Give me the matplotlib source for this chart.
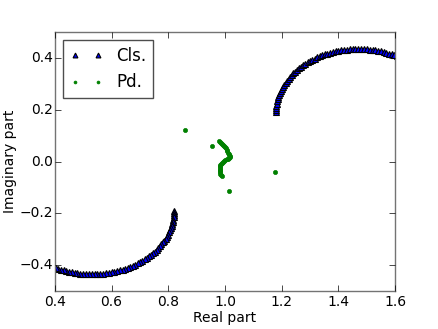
import matplotlib
matplotlib.use("Agg")
import matplotlib.pyplot as plt

# Cls. branch (upper right)
cls_upper_re = [1.1800, 1.1802, 1.1807, 1.1816, 1.1828, 1.1844, 1.1864, 1.1886, 1.1912, 1.1942,
                1.1975, 1.2011, 1.2051, 1.2093, 1.2140, 1.2189, 1.2241, 1.2296, 1.2354, 1.2415,
                1.2479, 1.2545, 1.2614, 1.2685, 1.2760, 1.2836, 1.2914, 1.2995, 1.3078, 1.3163,
                1.3250, 1.3338, 1.3429, 1.3521, 1.3614, 1.3708, 1.3804, 1.3901, 1.3998, 1.4097,
                1.4197, 1.4296, 1.4397, 1.4498, 1.4599, 1.4700, 1.4801, 1.4902, 1.5003, 1.5104,
                1.5203, 1.5303, 1.5402, 1.5499, 1.5596, 1.5692, 1.5786, 1.5879, 1.5971, 1.6062]
cls_upper_im = [0.1900, 0.1986, 0.2071, 0.2156, 0.2241, 0.2325, 0.2409, 0.2493, 0.2575, 0.2657,
                0.2738, 0.2818, 0.2896, 0.2974, 0.3050, 0.3125, 0.3198, 0.3270, 0.3340, 0.3408,
                0.3475, 0.3539, 0.3602, 0.3662, 0.3721, 0.3777, 0.3831, 0.3882, 0.3931, 0.3978,
                0.4022, 0.4063, 0.4102, 0.4138, 0.4172, 0.4202, 0.4230, 0.4255, 0.4277, 0.4296,
                0.4313, 0.4326, 0.4337, 0.4344, 0.4349, 0.4350, 0.4349, 0.4344, 0.4337, 0.4326,
                0.4313, 0.4296, 0.4277, 0.4255, 0.4230, 0.4202, 0.4172, 0.4138, 0.4102, 0.4063]

# Cls. branch (lower left)
cls_lower_re = [0.8200, 0.8198, 0.8193, 0.8184, 0.8172, 0.8156, 0.8136, 0.8114, 0.8088, 0.8058,
                0.8025, 0.7989, 0.7949, 0.7907, 0.7860, 0.7811, 0.7759, 0.7704, 0.7646, 0.7585,
                0.7521, 0.7455, 0.7386, 0.7315, 0.7240, 0.7164, 0.7086, 0.7005, 0.6922, 0.6837,
                0.6750, 0.6662, 0.6571, 0.6479, 0.6386, 0.6292, 0.6196, 0.6099, 0.6002, 0.5903,
                0.5803, 0.5704, 0.5603, 0.5502, 0.5401, 0.5300, 0.5199, 0.5098, 0.4997, 0.4896,
                0.4797, 0.4697, 0.4598, 0.4501, 0.4404, 0.4308, 0.4214, 0.4121, 0.4029, 0.3938]
cls_lower_im = [-0.1900, -0.1986, -0.2071, -0.2156, -0.2241, -0.2325, -0.2409, -0.2493, -0.2575, -0.2657,
                -0.2738, -0.2818, -0.2896, -0.2974, -0.3050, -0.3125, -0.3198, -0.3270, -0.3340, -0.3408,
                -0.3475, -0.3539, -0.3602, -0.3662, -0.3721, -0.3777, -0.3831, -0.3882, -0.3931, -0.3978,
                -0.4022, -0.4063, -0.4102, -0.4138, -0.4172, -0.4202, -0.4230, -0.4255, -0.4277, -0.4296,
                -0.4313, -0.4326, -0.4337, -0.4344, -0.4349, -0.4350, -0.4349, -0.4344, -0.4337, -0.4326,
                -0.4313, -0.4296, -0.4277, -0.4255, -0.4230, -0.4202, -0.4172, -0.4138, -0.4102, -0.4063]

# Pd. points
pd_re = [0.858, 0.953, 1.175, 1.013,
         0.9789, 0.9825, 0.9860, 0.9895, 0.9930, 0.9966, 1.0001, 1.0030, 1.0060, 1.0085,
         1.0107, 1.0125, 1.0142, 1.0165, 1.0189, 1.0150, 1.0107, 1.0060, 1.0013, 0.9965,
         0.9918, 0.9890, 0.9860, 0.9840, 0.9824, 0.9815, 0.9812, 0.9810, 0.9812, 0.9822,
         0.9836, 0.9858, 0.9883]
pd_im = [0.121, 0.0585, -0.039, -0.115,
         0.0778, 0.0755, 0.0727, 0.0690, 0.0650, 0.0605, 0.0560, 0.0510, 0.0457, 0.0400,
         0.0342, 0.0297, 0.0252, 0.0220, 0.0188, 0.0150, 0.0111, 0.0085, 0.0059, 0.0027,
         -0.0005, -0.0043, -0.0082, -0.0127, -0.0172, -0.0223, -0.0275, -0.0326, -0.0377, -0.0422,
         -0.0467, -0.0505, -0.0544]

plt.style.use('classic')
fig = plt.figure(figsize=(4.39, 3.29), dpi=100, facecolor='white')
ax = fig.add_axes([0.125, 0.1155, 0.775, 0.787])
ax.set_facecolor('white')

ax.plot(cls_upper_re, cls_upper_im, linestyle='none', marker='^', color='b',
        markeredgecolor='k', markersize=5, markeredgewidth=0.8, label='Cls.')
ax.plot(cls_lower_re, cls_lower_im, linestyle='none', marker='^', color='b',
        markeredgecolor='k', markersize=5, markeredgewidth=0.8)
ax.plot(pd_re, pd_im, linestyle='none', marker='o', color='g',
        markeredgecolor='g', markersize=3, label='Pd.')

ax.set_xlim(0.4, 1.6)
ax.set_ylim(-0.5, 0.5)
ax.set_xticks([0.4, 0.6, 0.8, 1.0, 1.2, 1.4, 1.6])
ax.set_yticks([-0.4, -0.2, 0.0, 0.2, 0.4])
ax.tick_params(axis='x', labelsize=10, pad=3)
ax.tick_params(axis='y', labelsize=10, pad=1.5)
for s in ax.spines.values():
    s.set_color('0.45')
ax.set_xlabel('Real part', fontsize=10, labelpad=1)
ax.set_ylabel('Imaginary part', fontsize=10, labelpad=2)
leg = ax.legend(loc='upper left', fontsize=12, numpoints=2, markerscale=0.7)
leg.get_frame().set_edgecolor('0.3')

fig.savefig('out.png', dpi=100, facecolor='white')
